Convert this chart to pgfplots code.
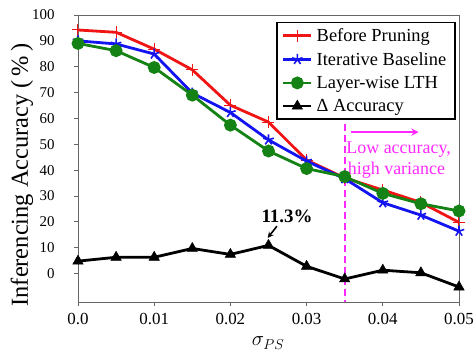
\documentclass[border=0pt]{standalone}
\usepackage{pgfplots}
\pgfplotsset{compat=1.18}
\usepackage{fontspec}
\setmainfont{Liberation Serif}
\definecolor{mred}{RGB}{240,20,20}
\definecolor{mblue}{RGB}{20,20,240}
\definecolor{mgreen}{RGB}{20,130,20}
\definecolor{mmag}{RGB}{255,40,255}
\begin{document}
\begin{tikzpicture}[x=1bp,y=1bp]
\begin{axis}[
  scale only axis,
  width=381bp, height=287bp,
  xmin=0, xmax=0.05, ymin=-11, ymax=100,
  scaled x ticks=false,
  xtick={0,0.01,0.02,0.03,0.04,0.05},
  xticklabels={0.0,0.01,0.02,0.03,0.04,0.05},
  ytick={0,10,20,30,40,50,60,70,80,90,100},
  tick align=outside, tick pos=left,
  major tick length=4bp,
  axis line style={draw=gray!80!black, line width=0.8bp},
  every tick/.style={gray!80!black, line width=0.8bp},
  /pgf/number format/assume math mode=true,
  xticklabel style={font=\fontsize{17}{19}\selectfont, yshift=-4bp},
  yticklabel style={font=\fontsize{15}{17}\selectfont, xshift=-16bp},
  xlabel={$\sigma_{PS}$},
  ylabel={Inferencing Accuracy (\,\%\,)},
  xlabel style={font=\fontsize{22}{24}\selectfont, at={(axis description cs:0.4987,-0.143)}, anchor=center},
  ylabel style={font=\fontsize{24.5}{26}\selectfont, at={(axis description cs:-0.147,0.4425)}, anchor=center},
  legend style={at={(0.992,0.977)}, anchor=north east, draw=black, line width=1.5bp,
    font=\fontsize{18.5}{20.5}\selectfont, row sep=5.5bp, inner xsep=5bp, inner ysep=4bp,
    nodes={inner xsep=4bp}},
  legend cell align=left,
  legend image code/.code={\draw[mark repeat=2,mark phase=2,#1] plot coordinates {(0bp,0bp)(14bp,0bp)(28bp,0bp)};},
]
\addplot[mred, line width=2.8bp, mark=+, mark size=6bp, mark options={line width=1bp}] coordinates {
(0,94.2)(0.005,93.3)(0.01,86.8)(0.015,78.8)(0.02,65.1)(0.025,58.6)(0.03,43.9)(0.035,37)(0.04,32.3)(0.045,27.5)(0.05,19.8)};
\addlegendentry{Before Pruning}
\addplot[mblue, line width=2.8bp, mark=star, mark size=5.5bp, mark options={line width=1.6bp}] coordinates {
(0,90)(0.005,88.8)(0.01,84.9)(0.015,69.8)(0.02,62.3)(0.025,51.7)(0.03,43.5)(0.035,36.7)(0.04,27.4)(0.045,22.6)(0.05,16.4)};
\addlegendentry{Iterative Baseline}
\addplot[mgreen, line width=2.8bp, mark=*, mark size=5bp] coordinates {
(0,89)(0.005,86.2)(0.01,79.7)(0.015,69)(0.02,57.4)(0.025,47.4)(0.03,40.6)(0.035,37.5)(0.04,31)(0.045,27)(0.05,24.2)};
\addlegendentry{Layer-wise LTH}
\addplot[black, line width=2.8bp, mark=triangle*, mark size=6bp, mark options={line width=0.5bp}] coordinates {
(0,4.8)(0.005,6.3)(0.01,6.3)(0.015,9.7)(0.02,7.4)(0.025,10.9)(0.03,2.8)(0.035,-2.1)(0.04,1.3)(0.045,0.3)(0.05,-5.2)};
\addlegendentry{Δ Accuracy}
\draw[mmag, line width=2.2bp, dash pattern=on 7bp off 4bp] (axis cs:0.035,57.8) -- (axis cs:0.035,-11);
\draw[mmag, line width=2.2bp, -stealth] (axis cs:0.0358,54.7) -- (axis cs:0.0447,54.7);
\node[mmag, anchor=west, inner sep=0pt, font=\fontsize{18}{21}\selectfont] at (axis cs:0.0352,47.9) {Low accuracy,};
\node[mmag, anchor=west, inner sep=0pt, font=\fontsize{18}{21}\selectfont] at (axis cs:0.0354,40.1) {high variance};
\node[font=\bfseries\fontsize{19}{22}\selectfont, inner sep=0pt] at (axis cs:0.02743,22.3) {11.3\%};
\draw[black, line width=1.6bp, -stealth] (axis cs:0.0261,18.3) -- (axis cs:0.0249,13.8);
\end{axis}
\pgfresetboundingbox
\path (current axis.south west) ++(-78bp,-50bp) rectangle ++(474bp,352bp);
\end{tikzpicture}
\end{document}
